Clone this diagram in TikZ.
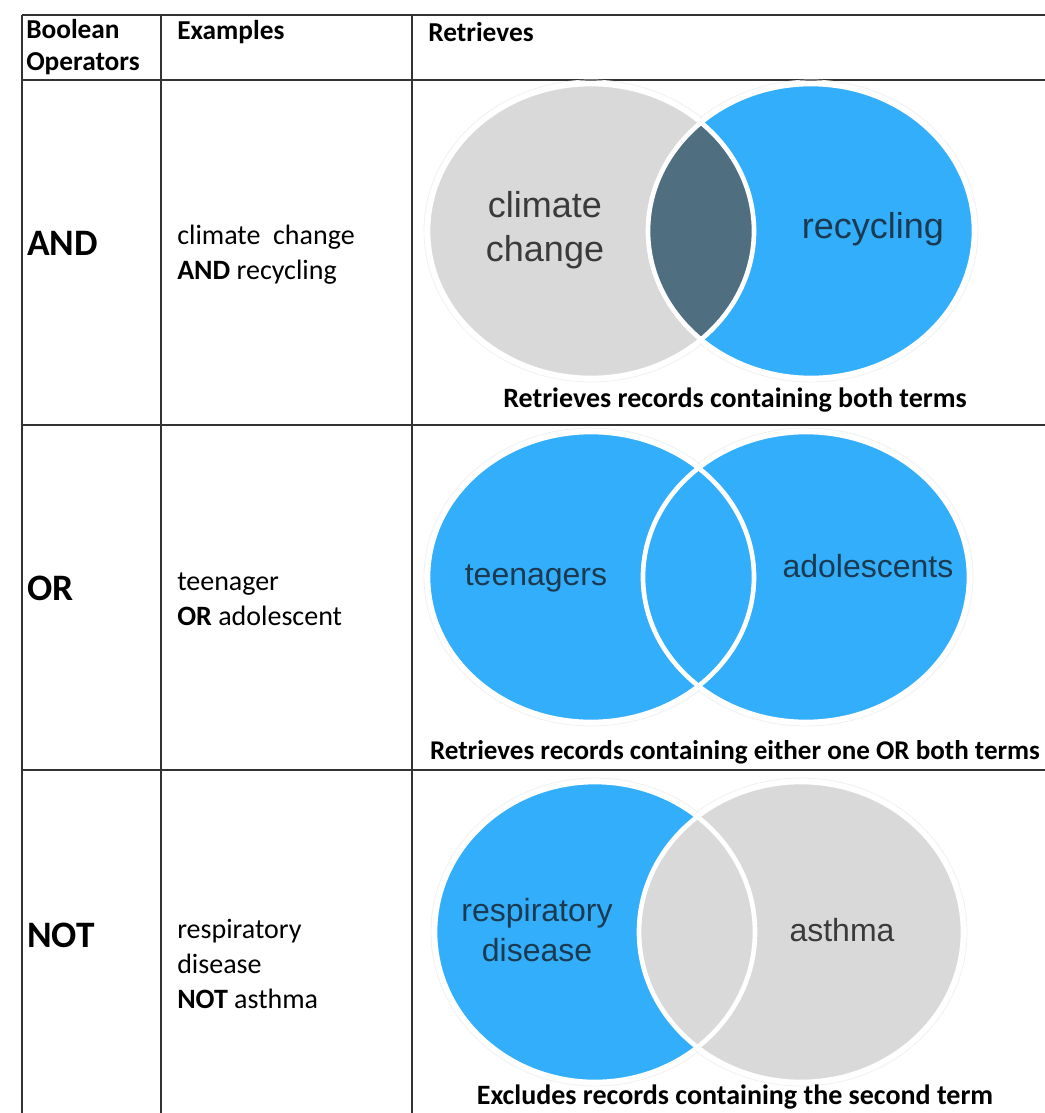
\documentclass[tikz,border=0pt]{standalone}
\usepackage{fontspec}
\setmainfont{Carlito}
\newfontfamily\vennfont{Liberation Sans}
\definecolor{vennblue}{RGB}{51,174,250}
\definecolor{venngray}{RGB}{217,217,217}
\definecolor{venndark}{RGB}{79,110,128}
\definecolor{bluetext}{RGB}{27,58,82}
\definecolor{graytext}{RGB}{58,58,58}

\begin{document}
\begin{tikzpicture}[x=0.75pt,y=-0.75pt,
	rule/.style={line width=1.3pt,black!80},
	cell/.style={anchor=west,align=left,inner sep=0pt,font=\fontsize{21}{26}\selectfont},
	op/.style={anchor=west,inner sep=0pt,font=\fontsize{28}{34}\selectfont\bfseries},
	caption/.style={inner sep=0pt,font=\fontsize{21}{26}\selectfont\bfseries},
	venn/.style={align=center,inner sep=0pt,font=\vennfont\fontsize{24}{30}\selectfont},
	rim/.style={draw=white,line width=3.5pt},
	halo/.style={draw=black!6,line width=0.6pt}]
	\useasboundingbox (0,0) rectangle (1045,1113);

	%table rules
	\foreach \y in {15,80,425,770}
		\draw[rule] (22,\y) -- (1045,\y);
	\foreach \x in {22,161,412}
		\draw[rule] (\x,15) -- (\x,1113);

	%header
	\node[cell,font=\fontsize{20.5}{24}\selectfont\bfseries] (hdop) at (26,47.5) {Boolean\\Operators};
	\node[cell,font=\fontsize{20.5}{24}\selectfont\bfseries] (hdex) at (177,32) {Examples};
	\node[cell,font=\fontsize{20.5}{24}\selectfont\bfseries] (hdret) at (428,32) {Retrieves};

	%AND row
	\node[op] (andop) at (27,243) {AND};
	\node[cell] (andex) at (177,255) {climate~ change\\\textbf{AND} recycling};
	\draw[halo] (591,231) ellipse [x radius=167, y radius=151];
	\draw[halo] (811,231) ellipse [x radius=167, y radius=151];
	\fill[venngray] (591,231) ellipse [x radius=163, y radius=147];
	\fill[vennblue] (811,231) ellipse [x radius=163, y radius=147];
	\begin{scope}
		\clip (591,231) ellipse [x radius=163, y radius=147];
		\fill[venndark] (811,231) ellipse [x radius=163, y radius=147];
	\end{scope}
	\draw[rim] (591,231) ellipse [x radius=163, y radius=147];
	\draw[rim] (811,231) ellipse [x radius=163, y radius=147];
	\node[venn,text=graytext,font=\vennfont\fontsize{27}{33}\selectfont] (climate) at (545,230) {climate\\change};
	\node[venn,text=bluetext,font=\vennfont\fontsize{27}{33}\selectfont] (recycling) at (873,229) {recycling};
	\node[caption] (andcap) at (735,400) {Retrieves records containing both terms};

	%OR row
	\node[op] (orop) at (27,588) {OR};
	\node[cell] (orex) at (177,599.5) {teenager\\\textbf{OR} adolescent};
	\draw[halo] (591,577) ellipse [x radius=167, y radius=149];
	\draw[halo] (806,577) ellipse [x radius=167, y radius=149];
	\fill[vennblue] (591,577) ellipse [x radius=163, y radius=145];
	\fill[vennblue] (806,577) ellipse [x radius=163, y radius=145];
	\draw[rim] (591,577) ellipse [x radius=163, y radius=145];
	\draw[rim] (806,577) ellipse [x radius=163, y radius=145];
	\node[venn,text=bluetext] (teen) at (536,578) {teenagers};
	\node[venn,text=bluetext] (adol) at (868,566) {adolescents};
	\node[caption,font=\fontsize{20.3}{26}\selectfont\bfseries] (orcap) at (735,752) {Retrieves records containing either one OR both terms};

	%NOT row
	\node[op] (notop) at (27,935) {NOT};
	\node[cell] (notex) at (177,964) {respiratory\\disease\\\textbf{NOT} asthma};
	\draw[halo] (595,932) ellipse [x radius=164, y radius=154];
	\draw[halo] (801,932) ellipse [x radius=166, y radius=154];
	\fill[vennblue] (595,932) ellipse [x radius=160, y radius=150];
	\fill[venngray] (801,932) ellipse [x radius=162, y radius=150];
	\draw[rim] (595,932) ellipse [x radius=160, y radius=150];
	\draw[rim] (801,932) ellipse [x radius=162, y radius=150];
	\node[venn,text=bluetext] (resp) at (537,930) {respiratory\\disease};
	\node[venn,text=graytext] (asthma) at (842,930) {asthma};
	\node[caption] (notcap) at (735,1097) {Excludes records containing the second term};
\end{tikzpicture}
\end{document}
